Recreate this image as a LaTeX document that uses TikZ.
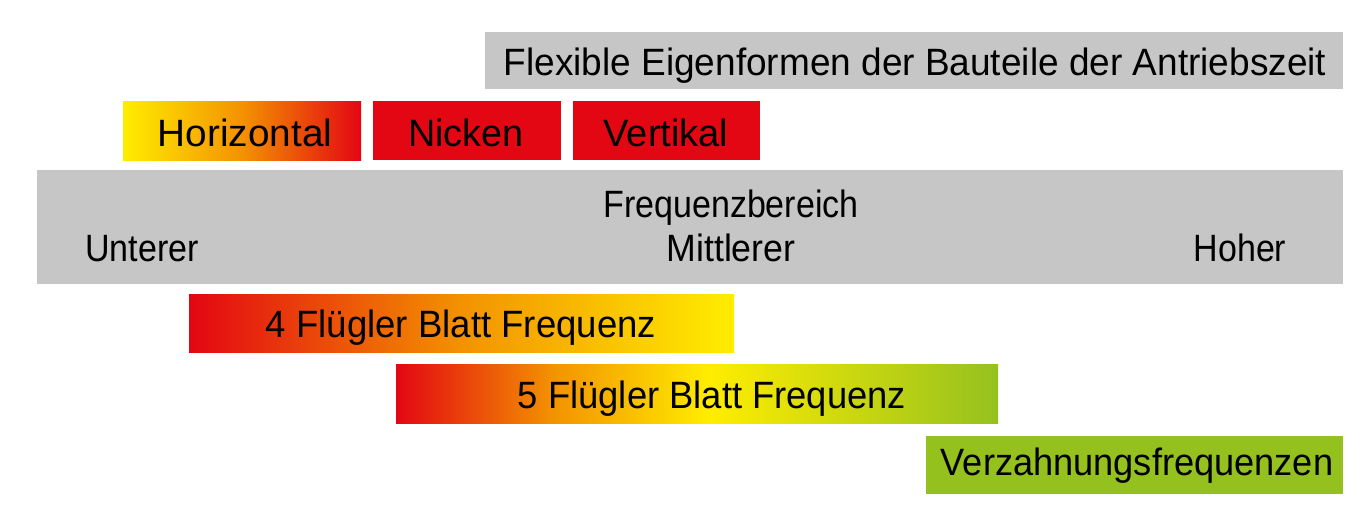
\documentclass[tikz,border=0pt]{standalone}
\usepackage{fontspec}
\setmainfont{Liberation Sans}
\definecolor{myred}{HTML}{E30613}
\definecolor{myyellow}{HTML}{FFED00}
\definecolor{myorange}{HTML}{F39200}
\definecolor{mygreen}{HTML}{95C11F}
\definecolor{mygray}{HTML}{C6C6C6}
\pgfdeclarehorizontalshading{yor}{100bp}{color(0bp)=(myyellow); color(25bp)=(myyellow); color(50bp)=(myorange); color(75bp)=(myred); color(100bp)=(myred)}
\pgfdeclarehorizontalshading{roy}{100bp}{color(0bp)=(myred); color(25bp)=(myred); color(50bp)=(myorange); color(75bp)=(myyellow); color(100bp)=(myyellow)}
\pgfdeclarehorizontalshading{royg}{100bp}{color(0bp)=(myred); color(25bp)=(myred); color(38bp)=(myorange); color(51bp)=(myyellow); color(75bp)=(mygreen); color(100bp)=(mygreen)}
\tikzset{
  box/.style={draw=none, inner sep=0pt, outer sep=0pt},
  lbl/.style={anchor=base, inner sep=0pt, text=black, font=\fontsize{34}{40}\selectfont},
}
\newcommand{\tall}[2][1]{\scalebox{#1}[1.12]{#2}}
\begin{document}
\begin{tikzpicture}[x=1pt,y=-1pt]
\useasboundingbox (0,0) rectangle (1371,519);
% boxes
\node[box, fill=mygray, minimum width=858, minimum height=57] (top) at (914,60.5) {};
\node[box, shading=yor, minimum width=238, minimum height=59] (hor) at (242,130.5) {};
\node[box, fill=myred, minimum width=188, minimum height=59] (nic) at (467,130.5) {};
\node[box, fill=myred, minimum width=187, minimum height=59] (ver) at (666.5,130.5) {};
\node[box, fill=mygray, minimum width=1306, minimum height=114] (freq) at (690,227) {};
\node[box, shading=roy, minimum width=545, minimum height=58] (vier) at (461.5,323) {};
\node[box, shading=royg, minimum width=602, minimum height=59] (fuenf) at (697,393.5) {};
\node[box, fill=mygreen, minimum width=417, minimum height=58] (verz) at (1134.5,465) {};
% texts
\node[lbl] (ttop) at (915,75) {\tall[1.088]{Flexible Eigenformen der Bauteile der Antriebszeit}};
\node[lbl] (thor) at (245,146) {\tall[1.14]{Horizontal}};
\node[lbl] (tnic) at (466,146) {\tall[1.11]{Nicken}};
\node[lbl] (tver) at (666,146) {\tall[1.12]{Vertikal}};
\node[lbl] (tfreq) at (731,217) {\tall{Frequenzbereich}};
\node[lbl, anchor=base west] (tunt) at (85,261) {\tall{Unterer}};
\node[lbl] (tmit) at (731,261) {\tall[1.05]{Mittlerer}};
\node[lbl] (thoh) at (1240,261) {\tall{Hoher}};
\node[lbl] (tvier) at (461,337) {\tall[1.075]{4 Flügler Blatt Frequenz}};
\node[lbl] (tfuenf) at (712,408) {\tall[1.07]{5 Flügler Blatt Frequenz}};
\node[lbl] (tverz) at (1137,475) {\tall[1.065]{Verzahnungsfrequenzen}};
\end{tikzpicture}
\end{document}
